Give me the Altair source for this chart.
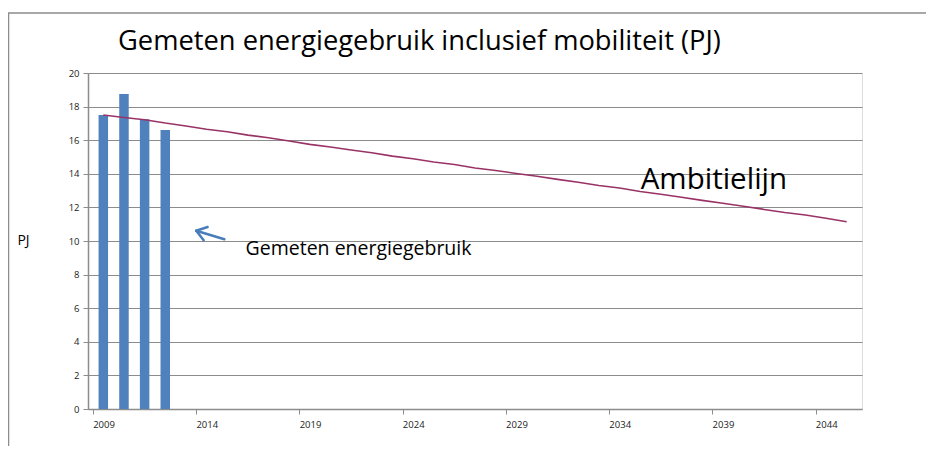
import altair as alt
import pandas as pd

# ---- data ----
bar_years = [2009, 2010, 2011, 2012]
bar_values = [17.5, 18.75, 17.25, 16.6]

line_years = list(range(2009, 2046))
line_values = [17.50, 17.35, 17.22, 17.02, 16.85, 16.65, 16.50, 16.30, 16.15, 15.95,
               15.75, 15.60, 15.42, 15.25, 15.05, 14.90, 14.70, 14.55, 14.35, 14.20,
               14.02, 13.85, 13.67, 13.50, 13.30, 13.15, 12.95, 12.78, 12.60, 12.42,
               12.25, 12.07, 11.88, 11.70, 11.55, 11.35, 11.15]

x_tick_labels = [2009, 2014, 2019, 2024, 2029, 2034, 2039, 2044]
y_ticks = [0, 2, 4, 6, 8, 10, 12, 14, 16, 18, 20]

title_text = "Gemeten energiegebruik inclusief mobiliteit (PJ)"
label_measured = "Gemeten energiegebruik"
label_ambition = "Ambitielijn"

# ---- annotation anchors (data coordinates) ----
measured_label_pos = (2021.36, 9.52)
ambition_label_pos = (2038.57, 13.65)
arrow_tip = (2013.50, 10.61)
arrow_tail = (2014.86, 10.10)
arrow_wing1 = (2014.05, 10.83)
arrow_wing2 = (2013.86, 10.05)

FONT = "Open Sans"
GRID = "#8c8c8c"
BAR = "#4F81BD"
LINE = "#993366"

bars_df = pd.DataFrame({"year": bar_years, "value": bar_values})
line_df = pd.DataFrame({"year": line_years, "value": line_values})

x_scale = alt.Scale(domain=[2008.5, 2045.5], nice=False, zero=False)
y_scale = alt.Scale(domain=[0, 20], nice=False)

x_axis = alt.Axis(
    values=[v - 0.5 for v in x_tick_labels],
    labelExpr="'' + (datum.value + 0.5)",
    labelOffset=10.5, labelOverlap=False,
    grid=False, title=None,
    domainColor=GRID, tickColor=GRID, tickSize=5, domainWidth=1.5,
    labelFont=FONT, labelFontSize=9.5, labelColor="#222", labelPadding=5,
)
y_axis = alt.Axis(
    values=y_ticks, grid=True, gridColor=GRID, gridWidth=1,
    labelOverlap=False,
    domainColor=GRID, tickColor=GRID, tickSize=5, domainWidth=1.5,
    labelFont=FONT, labelFontSize=9.5, labelColor="#222", labelPadding=4,
    title="PJ", titleAngle=0, titleFont=FONT, titleFontSize=14,
    titleFontWeight="normal", titleColor="#000",
    titleX=-65, titleY=167, titleAlign="center", titleBaseline="middle",
)


def X(field):
    return alt.X(field, scale=x_scale, axis=x_axis)


def Y(field):
    return alt.Y(field, scale=y_scale, axis=y_axis)


frame = alt.Chart(pd.DataFrame({"k": [0]})).mark_rect(
    fill=None, stroke="#8c8c8c", strokeWidth=1.5
).encode(
    x=alt.value(-79.5), x2=alt.value(880), y=alt.value(-60), y2=alt.value(420)
)

bars = alt.Chart(bars_df).mark_bar(color=BAR, size=9.5).encode(
    x=X("year:Q"), y=Y("value:Q"),
)

line = alt.Chart(line_df).mark_line(color=LINE, strokeWidth=1.6).encode(
    x=X("year:Q"), y=Y("value:Q"),
)

arrow_df = pd.DataFrame({
    "x": [arrow_tip[0], arrow_tip[0], arrow_tip[0]],
    "y": [arrow_tip[1], arrow_tip[1], arrow_tip[1]],
    "x2": [arrow_tail[0], arrow_wing1[0], arrow_wing2[0]],
    "y2": [arrow_tail[1], arrow_wing1[1], arrow_wing2[1]],
})
arrow = alt.Chart(arrow_df).mark_rule(color="#4A7EBB", strokeWidth=2.5, strokeCap="round").encode(
    x=X("x:Q"), y=Y("y:Q"), x2="x2:Q", y2="y2:Q",
)

labels_df = pd.DataFrame({
    "x": [measured_label_pos[0], ambition_label_pos[0]],
    "y": [measured_label_pos[1], ambition_label_pos[1]],
    "text": [label_measured, label_ambition],
    "size": [19.5, 29.5],
})
labels = alt.Chart(labels_df).mark_text(font=FONT, color="#000", align="center", baseline="middle").encode(
    x=X("x:Q"), y=Y("y:Q"),
    text="text:N", size=alt.Size("size:Q", scale=None, legend=None),
)

title = alt.Chart(pd.DataFrame({"t": [title_text]})).mark_text(
    font=FONT, fontSize=27.3, color="#000", align="left", baseline="alphabetic"
).encode(text="t:N", x=alt.value(30), y=alt.value(-23))

chart = alt.layer(frame, bars, line, arrow, labels, title).properties(
    width=774, height=336,
    autosize=alt.AutoSizeParams(type="none"),
    padding={"left": 80, "top": 65, "right": 64, "bottom": 37},
).configure_view(stroke=None).configure(background="white")

chart.save("out.html", embed_options={"renderer": "svg", "actions": False})
